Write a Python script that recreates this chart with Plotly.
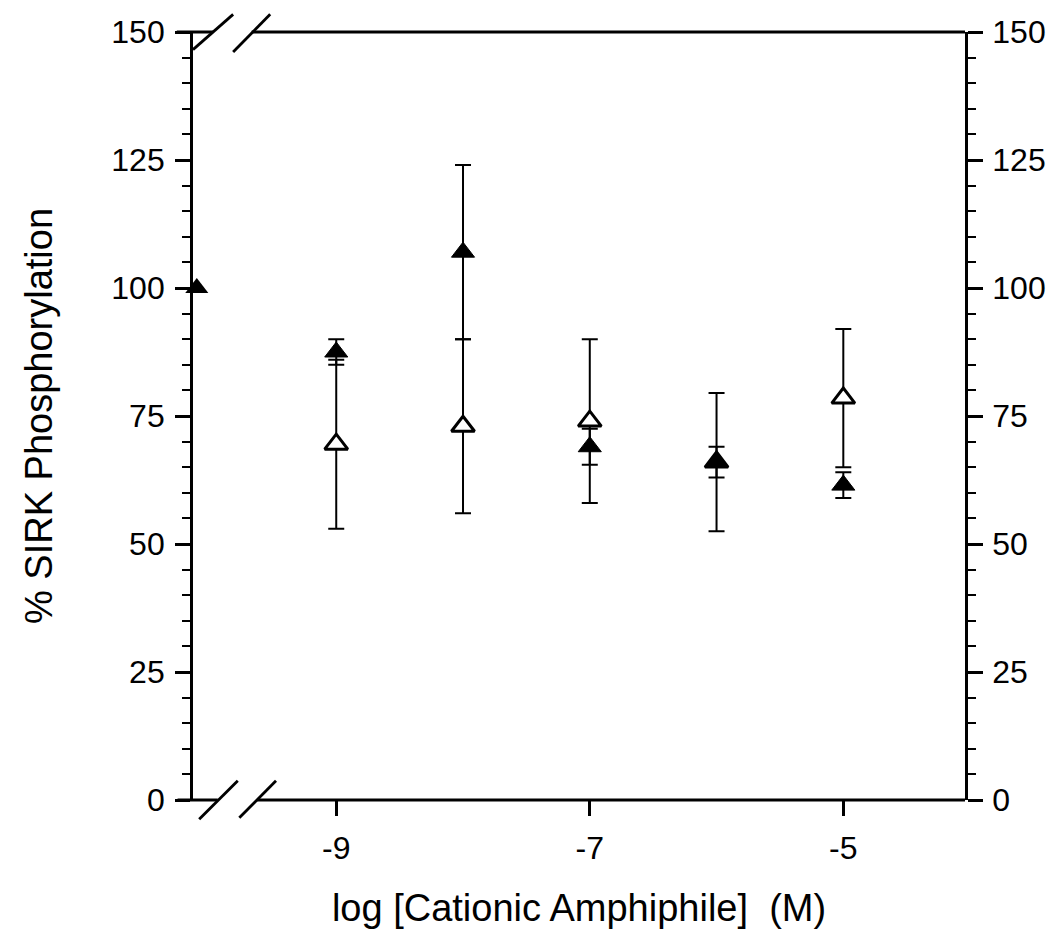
import plotly.graph_objects as go

# ---- data ----
ctrl_x = [-10.1]
ctrl_y = [100]

conc = [-9, -8, -7, -6, -5]
filled_y = [87.5, 107, 69, 66, 61.5]
filled_err = [2.5, 17, 3.5, 3, 2.5]
open_y = [69.5, 73, 74, 66, 78.5]
open_err = [16.5, 17, 16, 13.5, 13.5]

x_ticks = [-9, -7, -5]
x_ticklabels = ["-9", "-7", "-5"]
y_ticks = [0, 25, 50, 75, 100, 125, 150]

FONT = "Arial, Liberation Sans, sans-serif"
BLACK = "black"
TICK_SIZE = 32
TITLE_SIZE = 38

fig = go.Figure()

fig.add_trace(go.Scatter(
    x=conc, y=open_y, mode="markers",
    marker=dict(symbol="triangle-up", size=20, color="white",
                line=dict(color=BLACK, width=3)),
    error_y=dict(type="data", array=open_err, visible=True,
                 color=BLACK, thickness=2, width=8),
    showlegend=False, hoverinfo="skip"))

fig.add_trace(go.Scatter(
    x=conc, y=filled_y, mode="markers",
    marker=dict(symbol="triangle-up", size=20, color=BLACK,
                line=dict(color=BLACK, width=1)),
    error_y=dict(type="data", array=filled_err, visible=True,
                 color=BLACK, thickness=2, width=8),
    showlegend=False, hoverinfo="skip"))

fig.add_trace(go.Scatter(
    x=ctrl_x, y=ctrl_y, mode="markers",
    marker=dict(symbol="triangle-up", size=20, color=BLACK),
    showlegend=False, hoverinfo="skip", cliponaxis=False))

# invisible trace to anchor right axis
fig.add_trace(go.Scatter(
    x=conc, y=filled_y, yaxis="y2", mode="markers",
    marker=dict(opacity=0), showlegend=False, hoverinfo="skip"))


def yax(standoff):
    return dict(
        range=[0, 150], tickvals=y_ticks, ticks="outside", ticklen=15,
        tickwidth=2.5, tickcolor=BLACK, showline=True, linewidth=2.8,
        linecolor=BLACK, showgrid=False, zeroline=False,
        minor=dict(dtick=5, ticks="outside", ticklen=8, tickwidth=2,
                   tickcolor=BLACK, showgrid=False),
        tickfont=dict(family=FONT, size=TICK_SIZE, color=BLACK),
        ticklabelstandoff=standoff,
    )


fig.update_layout(
    width=1049, height=930,
    margin=dict(l=185, r=92, t=24, b=138, autoexpand=False),
    paper_bgcolor="white", plot_bgcolor="white",
    font=dict(family=FONT, color=BLACK),
    xaxis=dict(
        range=[-10.13, -4.04], tickvals=x_ticks, ticktext=x_ticklabels,
        ticks="outside", ticklen=15, tickwidth=2.5, tickcolor=BLACK,
        showline=False, showgrid=False, zeroline=False,
        tickfont=dict(family=FONT, size=TICK_SIZE, color=BLACK),
        ticklabelstandoff=5,
        title=dict(text="log [Cationic Amphiphile]  (M)",
                   font=dict(family=FONT, size=TITLE_SIZE, color=BLACK),
                   standoff=28),
    ),
    yaxis=dict(**yax(4), title=dict(text="% SIRK Phosphorylation",
                                    font=dict(family=FONT, size=TITLE_SIZE, color=BLACK),
                                    standoff=48)),
    yaxis2=dict(**yax(3), overlaying="y", side="right"),
)

# axis lines with break (paper coords), and break slashes
line = dict(color=BLACK, width=2.8)
shapes = [
    dict(type="line", xref="paper", yref="paper", x0=-0.02, x1=0.032, y0=0, y1=0, line=line),
    dict(type="line", xref="paper", yref="paper", x0=0.083, x1=1, y0=0, y1=0, line=line),
    dict(type="line", xref="paper", yref="paper", x0=-0.021, x1=0.026, y0=1, y1=1, line=line),
    dict(type="line", xref="paper", yref="paper", x0=0.076, x1=1, y0=1, y1=1, line=line),
    dict(type="line", xref="paper", yref="paper", x0=0.008, y0=-0.025, x1=0.058, y1=0.025, line=line),
    dict(type="line", xref="paper", yref="paper", x0=0.060, y0=-0.023, x1=0.1075, y1=0.025, line=line),
    dict(type="line", xref="paper", yref="paper", x0=0.0, y0=0.977, x1=0.052, y1=1.023, line=line),
    dict(type="line", xref="paper", yref="paper", x0=0.052, y0=0.974, x1=0.100, y1=1.023, line=line),
]
fig.update_layout(shapes=shapes)

fig.write_html("out.html")
